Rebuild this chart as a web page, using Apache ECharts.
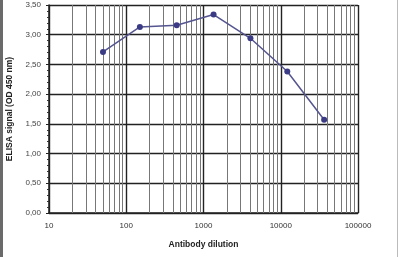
<!DOCTYPE html>
<html><head><meta charset="utf-8">
<script src="https://cdn.jsdelivr.net/npm/echarts@6/dist/echarts.min.js"></script>
<style>html,body{margin:0;padding:0;background:#fff}#c{width:400px;height:257px;position:relative}
#bl{position:absolute;left:0;top:0;width:3px;height:257px;background:#6a6a6a}
#br{position:absolute;left:397px;top:0;width:1px;height:257px;background:#bbb}</style>
</head><body><div id="c"></div><div id="bl"></div><div id="br"></div>
<script>
const dilutions = [50, 150, 450, 1350, 4050, 12150, 36450];
const signal = [2.71, 3.13, 3.16, 3.34, 2.94, 2.38, 1.57];
const minorGrid = [20,30,40,50,60,70,80,90,200,300,400,500,600,700,800,900,2000,3000,4000,5000,6000,7000,8000,9000,20000,30000,40000,50000,60000,70000,80000,90000];
const chart = echarts.init(document.getElementById('c'), null, {renderer:'canvas'});
chart.setOption({
  animation:false,
  grid:{left:49,right:42,top:5,bottom:44,containLabel:false,outerBoundsMode:'none'},
  xAxis:{type:'log',logBase:10,min:10,max:100000,
    name:'Antibody dilution',nameLocation:'middle',nameGap:27,
    nameTextStyle:{fontFamily:'Liberation Sans',fontWeight:'bold',fontSize:8.5,color:'#222'},
    axisLine:{lineStyle:{color:'#222',width:1.5}},
    axisTick:{show:false},
    axisLabel:{fontFamily:'Liberation Sans',fontSize:8,color:'#333',margin:9,
      formatter:v=>String(Math.round(v))},
    splitLine:{show:true,lineStyle:{color:'#222',width:1.4}}},
  yAxis:{type:'value',min:0,max:3.5,interval:0.5,
    name:'ELISA signal (OD 450 nm)',nameLocation:'middle',nameGap:35,
    nameTextStyle:{fontFamily:'Liberation Sans',fontWeight:'bold',fontSize:8.5,color:'#222'},
    axisLine:{show:true,lineStyle:{color:'#222',width:1.5}},
    axisTick:{show:true,inside:false,length:3,lineStyle:{color:'#222'}},
    minorTick:{show:true,splitNumber:5,length:2,lineStyle:{color:'#333'}},
    axisLabel:{fontFamily:'Liberation Sans',fontSize:8,color:'#444',margin:8,
      formatter:v=>v.toFixed(2).replace('.',',')},
    splitLine:{show:true,lineStyle:{color:'#222',width:1.4}}},
  series:[{type:'line',data:dilutions.map((d,i)=>[d,signal[i]]),
    symbol:'circle',symbolSize:6,
    lineStyle:{color:'#555590',width:1.5},
    itemStyle:{color:'#3a3a85'},
    z:5,
    markLine:{silent:true,symbol:'none',label:{show:false},
      lineStyle:{color:'#777',width:1,type:'solid'},
      data:minorGrid.map(v=>({xAxis:v}))}}]
});
</script></body></html>
